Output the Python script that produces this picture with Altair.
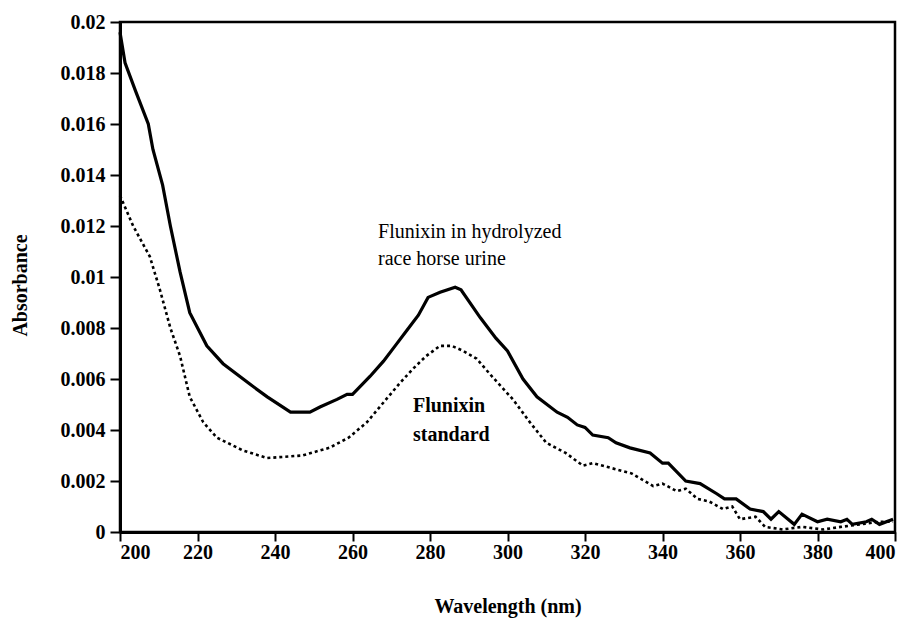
import altair as alt
import pandas as pd

# Flunixin in hydrolyzed race horse urine (solid)
urine_wl = [200, 201.3, 204, 207.3, 208.5, 211, 213, 215.5, 218, 222.4, 226.6, 233.5, 238, 244, 249,
            251.6, 256, 258.6, 260, 264.5, 268, 271, 274, 277, 279.5, 282.6, 286.5, 288, 293, 297, 300, 304, 307.6,
            312.8, 315.5, 318, 320, 322, 326, 328, 331.6, 336.8, 340, 341.5, 346, 349.7, 354, 356, 359, 362.6, 366,
            368, 370, 374, 376, 380, 382.5, 386, 387.6, 389, 392.6, 394, 396, 399.5]
urine_abs = [0.0196, 0.0184, 0.0173, 0.0160, 0.0150, 0.0136, 0.0120, 0.0102, 0.0086, 0.0073, 0.0066, 0.0058,
             0.0053, 0.0047, 0.0047, 0.0049, 0.0052, 0.0054, 0.0054, 0.0061, 0.0067, 0.0073, 0.0079, 0.0085, 0.0092,
             0.0094, 0.0096, 0.0095, 0.0084, 0.0076, 0.0071, 0.0060, 0.0053, 0.0047, 0.0045, 0.0042, 0.0041, 0.0038,
             0.0037, 0.0035, 0.0033, 0.0031, 0.0027, 0.0027, 0.0020, 0.0019, 0.0015, 0.0013, 0.0013, 0.0009, 0.0008,
             0.0005, 0.0008, 0.0003, 0.0007, 0.0004, 0.0005, 0.0004, 0.0005, 0.0003, 0.0004, 0.0005, 0.0003, 0.0005]

# Flunixin standard (dotted)
std_wl = [200, 203.4, 207.7, 210.3, 213, 215.5, 218, 221.5, 225, 231.7, 238, 247, 254, 259, 263.7, 267, 272,
          275.6, 279, 282.6, 285.6, 288.6, 292, 296, 301.4, 305.8, 310, 315, 319.5, 322, 327, 332, 337.6, 340,
          343.7, 346, 349, 352, 355.6, 358, 360, 364, 366.5, 371, 376, 381.5, 386, 391, 396, 399.5]
std_abs = [0.0132, 0.0120, 0.0108, 0.0095, 0.0080, 0.0069, 0.0053, 0.0043, 0.0037, 0.0032, 0.0029, 0.0030,
           0.0033, 0.0037, 0.0043, 0.0049, 0.0058, 0.0064, 0.0069, 0.0073, 0.0073, 0.0071, 0.0068, 0.0061, 0.0052,
           0.0043, 0.0035, 0.0031, 0.0026, 0.0027, 0.0025, 0.0023, 0.0018, 0.0019, 0.0016, 0.0017, 0.0013, 0.0012,
           0.0009, 0.0010, 0.0005, 0.0006, 0.0002, 0.0001, 0.0002, 0.0001, 0.0002, 0.0003, 0.0004, 0.0004]

x_ticks = [200, 220, 240, 260, 280, 300, 320, 340, 360, 380, 400]
y_ticks = [0, 0.002, 0.004, 0.006, 0.008, 0.01, 0.012, 0.014, 0.016, 0.018, 0.02]

urine_label = ["Flunixin in hydrolyzed", "race horse urine"]
urine_label_pos = [266.6, 0.01153]
std_label = ["Flunixin", "standard"]
std_label_pos = [275.6, 0.0047]

FONT = "Liberation Serif"

urine = pd.DataFrame({"wl": urine_wl, "abs": urine_abs})
std = pd.DataFrame({"wl": std_wl, "abs": std_abs})
lab1 = pd.DataFrame({"wl": [urine_label_pos[0]], "abs": [urine_label_pos[1]], "txt": [urine_label]})
lab2 = pd.DataFrame({"wl": [std_label_pos[0]], "abs": [std_label_pos[1]], "txt": [std_label]})

x_scale = alt.Scale(domain=[200, 400], nice=False, zero=False)
y_scale = alt.Scale(domain=[0, 0.02], nice=False)

x_axis = alt.Axis(values=x_ticks, title="Wavelength (nm)", grid=False, format="d",
                  domainColor="black", domainWidth=3, tickColor="black", tickWidth=2, tickSize=9,
                  labelFont=FONT, labelFontSize=20, labelFontWeight="bold", labelColor="black", labelPadding=1,
                  titleFont=FONT, titleFontSize=20, titleFontWeight="bold", titleColor="black",
                  titlePadding=34)
y_axis = alt.Axis(values=y_ticks, title="Absorbance", grid=False, format="~g",
                  domainColor="black", domainWidth=3, tickColor="black", tickWidth=2, tickSize=10,
                  labelFont=FONT, labelFontSize=20, labelFontWeight="bold", labelColor="black", labelPadding=5,
                  titleFont=FONT, titleFontSize=20, titleFontWeight="bold", titleColor="black",
                  titleX=-100, titleY=263, titleAngle=-90, titleAlign="center", titleBaseline="middle")

solid = alt.Chart(urine).mark_line(color="black", strokeWidth=3.2).encode(
    x=alt.X("wl:Q", scale=x_scale, axis=x_axis),
    y=alt.Y("abs:Q", scale=y_scale, axis=y_axis),
)
dotted = alt.Chart(std).mark_line(color="black", strokeWidth=2.6, strokeDash=[3, 3]).encode(
    x=alt.X("wl:Q", scale=x_scale),
    y=alt.Y("abs:Q", scale=y_scale),
)
text1 = alt.Chart(lab1).mark_text(font=FONT, fontSize=20, color="black", align="left",
                                  baseline="alphabetic", lineHeight=27).encode(
    x=alt.X("wl:Q", scale=x_scale),
    y=alt.Y("abs:Q", scale=y_scale),
    text="txt",
)
text2 = alt.Chart(lab2).mark_text(font=FONT, fontSize=20, fontWeight="bold", color="black", align="left",
                                  baseline="alphabetic", lineHeight=29).encode(
    x=alt.X("wl:Q", scale=x_scale),
    y=alt.Y("abs:Q", scale=y_scale),
    text="txt",
)

chart = alt.layer(solid, dotted, text1, text2).properties(
    width=775, height=510,
    autosize=alt.AutoSizeParams(type="none"),
    padding={"left": 120, "top": 22, "right": 18, "bottom": 86},
    background="white",
).configure_view(stroke="black", strokeWidth=2.5)

chart.save("out.html", embed_options={"renderer": "svg", "actions": False})
